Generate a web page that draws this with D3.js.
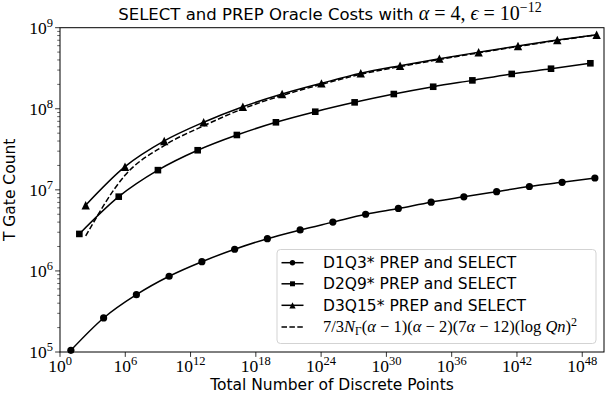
<!DOCTYPE html>
<html lang="en">
<head>
<meta charset="UTF-8">
<title>SELECT and PREP Oracle Costs</title>
<script src="https://d3js.org/d3.v7.min.js"></script>
<style>
    body { margin: 0; background: #fff; }
    .sans { font-family: "DejaVu Sans", sans-serif; }
    .math { font-family: "Liberation Serif", serif; }
</style>
</head>
<body>
<div id="chart"></div>
<script>
    // values
    const d1q3X = [1e1, 1.02e4, 1.05e7, 1.07e10, 1.10e13, 1.13e16, 1.15e19, 1.18e22, 1.20e25, 1.23e28, 1.26e31, 1.29e34, 1.32e37, 1.35e40, 1.38e43, 1.41e46, 1.45e49];
    const d1q3Y = [1.05e5, 2.63e5, 5.1e5, 8.6e5, 1.3e6, 1.85e6, 2.5e6, 3.2e6, 4.0e6, 5.0e6, 5.9e6, 7.05e6, 8.2e6, 9.5e6, 1.1e7, 1.24e7, 1.4e7];

    const d2q9X = [60, 2.5e5, 1e9, 4.5e12, 1.8e16, 7e19, 2.9e23, 1.2e27, 4.8e30, 2e34, 8e37, 3.3e41, 1.35e45, 5.6e48];
    const d2q9Y = [2.86e6, 8.24e6, 1.75e7, 3.08e7, 4.75e7, 6.81e7, 9.2e7, 1.2e8, 1.52e8, 1.87e8, 2.24e8, 2.69e8, 3.12e8, 3.64e8];

    const d3q15X = [230, 9.4e5, 3.8e9, 1.6e13, 6.4e16, 2.6e20, 1.07e24, 4.4e27, 1.8e31, 7.4e34, 3e38, 1.25e42, 5.1e45, 2.1e49];
    const d3q15Y = [6.46e6, 1.93e7, 4.01e7, 6.82e7, 1.06e8, 1.52e8, 2.06e8, 2.74e8, 3.40e8, 4.15e8, 4.98e8, 5.94e8, 7.05e8, 8.2e8];

    const boundY = [2.7e6, 1.51e7, 3.52e7, 6.17e7, 1.0e8, 1.46e8, 2.0e8, 2.66e8, 3.31e8, 4.05e8, 4.9e8, 5.86e8, 6.97e8, 8.13e8];

    const xTicks = [1e0, 1e6, 1e12, 1e18, 1e24, 1e30, 1e36, 1e42, 1e48];
    const yTicks = [1e5, 1e6, 1e7, 1e8, 1e9];

    const width = 611, height = 400;
    const mLeft = 60, mRight = 604, mTop = 27.7, mBottom = 352;

    const svg = d3.select('#chart').append('svg')
        .attr('width', width)
        .attr('height', height);

    const x = d3.scaleLog().domain([1, 1e50]).range([mLeft, mRight]);
    const y = d3.scaleLog().domain([1e5, 1e9]).range([mBottom, mTop]);

    const plot = svg.append('g');
    plot.append('clipPath').attr('id', 'clip')
        .append('rect').attr('x', mLeft).attr('y', mTop - 6)
        .attr('width', mRight - mLeft).attr('height', mBottom - mTop + 12);

    const series = [
        {name: 'D1Q3* PREP and SELECT', xs: d1q3X, ys: d1q3Y, marker: 'circle'},
        {name: 'D2Q9* PREP and SELECT', xs: d2q9X, ys: d2q9Y, marker: 'square'},
        {name: 'D3Q15* PREP and SELECT', xs: d3q15X, ys: d3q15Y, marker: 'triangle'}
    ];

    const line = d3.line().x(d => x(d[0])).y(d => y(d[1])).curve(d3.curveMonotoneX);

    function drawMarker(g, kind, cx, cy, scale) {
        scale = scale || 1;
        if (kind === 'circle') {
            g.append('circle').attr('cx', cx).attr('cy', cy).attr('r', 3.6 * scale).attr('fill', '#000');
        } else if (kind === 'square') {
            const s = 6.6 * scale;
            g.append('rect').attr('x', cx - s / 2).attr('y', cy - s / 2)
                .attr('width', s).attr('height', s).attr('fill', '#000');
        } else {
            const r = 4.2 * scale;
            g.append('path')
                .attr('d', `M${cx},${cy - r}L${cx - r},${cy + r}L${cx + r},${cy + r}Z`)
                .attr('fill', '#000');
        }
    }

    const lines = plot.append('g').attr('clip-path', 'url(#clip)');
    series.forEach(s => {
        const pts = s.xs.map((v, i) => [v, s.ys[i]]);
        lines.append('path').attr('d', line(pts))
            .attr('fill', 'none').attr('stroke', '#000').attr('stroke-width', 1.5);
        pts.forEach(p => drawMarker(lines, s.marker, x(p[0]), y(p[1])));
    });

    // dashed bound, evaluated at the D3Q15 points
    lines.append('path')
        .attr('d', line(d3q15X.map((v, i) => [v, boundY[i]])))
        .attr('fill', 'none').attr('stroke', '#000').attr('stroke-width', 1.5)
        .attr('stroke-dasharray', '5.5,2.4');

    // frame
    svg.append('rect').attr('x', mLeft).attr('y', mTop)
        .attr('width', mRight - mLeft).attr('height', mBottom - mTop)
        .attr('fill', 'none').attr('stroke', '#000').attr('stroke-width', 1);

    // x ticks
    const xt = svg.append('g');
    xTicks.forEach(t => {
        const px = x(t);
        xt.append('line').attr('x1', px).attr('x2', px).attr('y1', mBottom).attr('y2', mBottom + 4.9)
            .attr('stroke', '#000').attr('stroke-width', 0.8);
        const lab = xt.append('text').attr('class', 'math')
            .attr('x', px).attr('y', mBottom + 20).attr('text-anchor', 'middle')
            .attr('font-size', 17.5).attr('fill', '#000');
        lab.append('tspan').text('10');
        lab.append('tspan').attr('dy', -7).attr('font-size', 12.5).text(Math.round(Math.log10(t)));
    });

    // y ticks with minor ticks
    const yt = svg.append('g');
    yTicks.forEach(t => {
        const py = y(t);
        yt.append('line').attr('x1', mLeft - 4.9).attr('x2', mLeft).attr('y1', py).attr('y2', py)
            .attr('stroke', '#000').attr('stroke-width', 0.8);
        const lab = yt.append('text').attr('class', 'math')
            .attr('x', mLeft - 7).attr('y', py + 6).attr('text-anchor', 'end')
            .attr('font-size', 17.5).attr('fill', '#000');
        lab.append('tspan').text('10');
        lab.append('tspan').attr('dy', -7).attr('font-size', 12.5).text(Math.round(Math.log10(t)));
        if (t < 1e9) {
            for (let m = 2; m <= 9; m++) {
                const pm = y(t * m);
                yt.append('line').attr('x1', mLeft - 2.8).attr('x2', mLeft).attr('y1', pm).attr('y2', pm)
                    .attr('stroke', '#000').attr('stroke-width', 0.6);
            }
        }
    });

    // axis labels
    svg.append('text').attr('class', 'sans')
        .attr('x', (mLeft + mRight) / 2).attr('y', 390).attr('text-anchor', 'middle')
        .attr('font-size', 15.5).text('Total Number of Discrete Points');
    svg.append('text').attr('class', 'sans')
        .attr('transform', `translate(15,${(mTop + mBottom) / 2}) rotate(-90)`)
        .attr('text-anchor', 'middle').attr('font-size', 15.5).text('T Gate Count');

    // title
    const title = svg.append('text').attr('x', 330).attr('y', 20)
        .attr('text-anchor', 'middle').attr('font-size', 16.5);
    title.append('tspan').attr('class', 'sans').text('SELECT and PREP Oracle Costs with ');
    const tm = title.append('tspan').attr('class', 'math').attr('font-size', 20);
    tm.append('tspan').attr('font-style', 'italic').text('\u03B1');
    tm.append('tspan').attr('dx', 5).text('=');
    tm.append('tspan').attr('dx', 5).text('4,');
    tm.append('tspan').attr('dx', 5).attr('font-style', 'italic').text('\u03F5');
    tm.append('tspan').attr('dx', 5).text('=');
    tm.append('tspan').attr('dx', 5).text('10');
    tm.append('tspan').attr('dy', -8).attr('font-size', 14).text('\u221212');

    // legend
    const lg = svg.append('g');
    lg.append('rect').attr('x', 277).attr('y', 249.5).attr('width', 319).attr('height', 94)
        .attr('rx', 3.5).attr('fill', '#fff').attr('fill-opacity', 0.8)
        .attr('stroke', '#d3d3d3').attr('stroke-width', 1);
    const rowY = [262.7, 283.8, 305.3, 327];
    series.forEach((s, i) => {
        lg.append('line').attr('x1', 281.5).attr('x2', 303.5).attr('y1', rowY[i]).attr('y2', rowY[i])
            .attr('stroke', '#000').attr('stroke-width', 1.5);
        drawMarker(lg, s.marker, 292.5, rowY[i], 0.75);
        lg.append('text').attr('class', 'sans').attr('x', 323).attr('y', rowY[i] + 5.5)
            .attr('font-size', 15.5).text(s.name);
    });
    lg.append('line').attr('x1', 281.5).attr('x2', 303.5).attr('y1', rowY[3]).attr('y2', rowY[3])
        .attr('stroke', '#000').attr('stroke-width', 1.5).attr('stroke-dasharray', '5.5,2.4');
    const ft = lg.append('text').attr('class', 'math').attr('x', 323).attr('y', rowY[3] + 5)
        .attr('font-size', 16.5);
    ft.append('tspan').text('7/3');
    ft.append('tspan').attr('font-style', 'italic').text('N');
    ft.append('tspan').attr('dy', 3).attr('font-size', 11.5).text('\u0393');
    ft.append('tspan').attr('dy', -3).text('(');
    ft.append('tspan').attr('font-style', 'italic').text('\u03B1');
    ft.append('tspan').text(' \u2212 1)(');
    ft.append('tspan').attr('font-style', 'italic').text('\u03B1');
    ft.append('tspan').text(' \u2212 2)(7');
    ft.append('tspan').attr('font-style', 'italic').text('\u03B1');
    ft.append('tspan').text(' \u2212 12)(log ');
    ft.append('tspan').attr('font-style', 'italic').text('Qn');
    ft.append('tspan').text(')');
    ft.append('tspan').attr('dy', -6).attr('font-size', 12).text('2');
</script>
</body>
</html>
